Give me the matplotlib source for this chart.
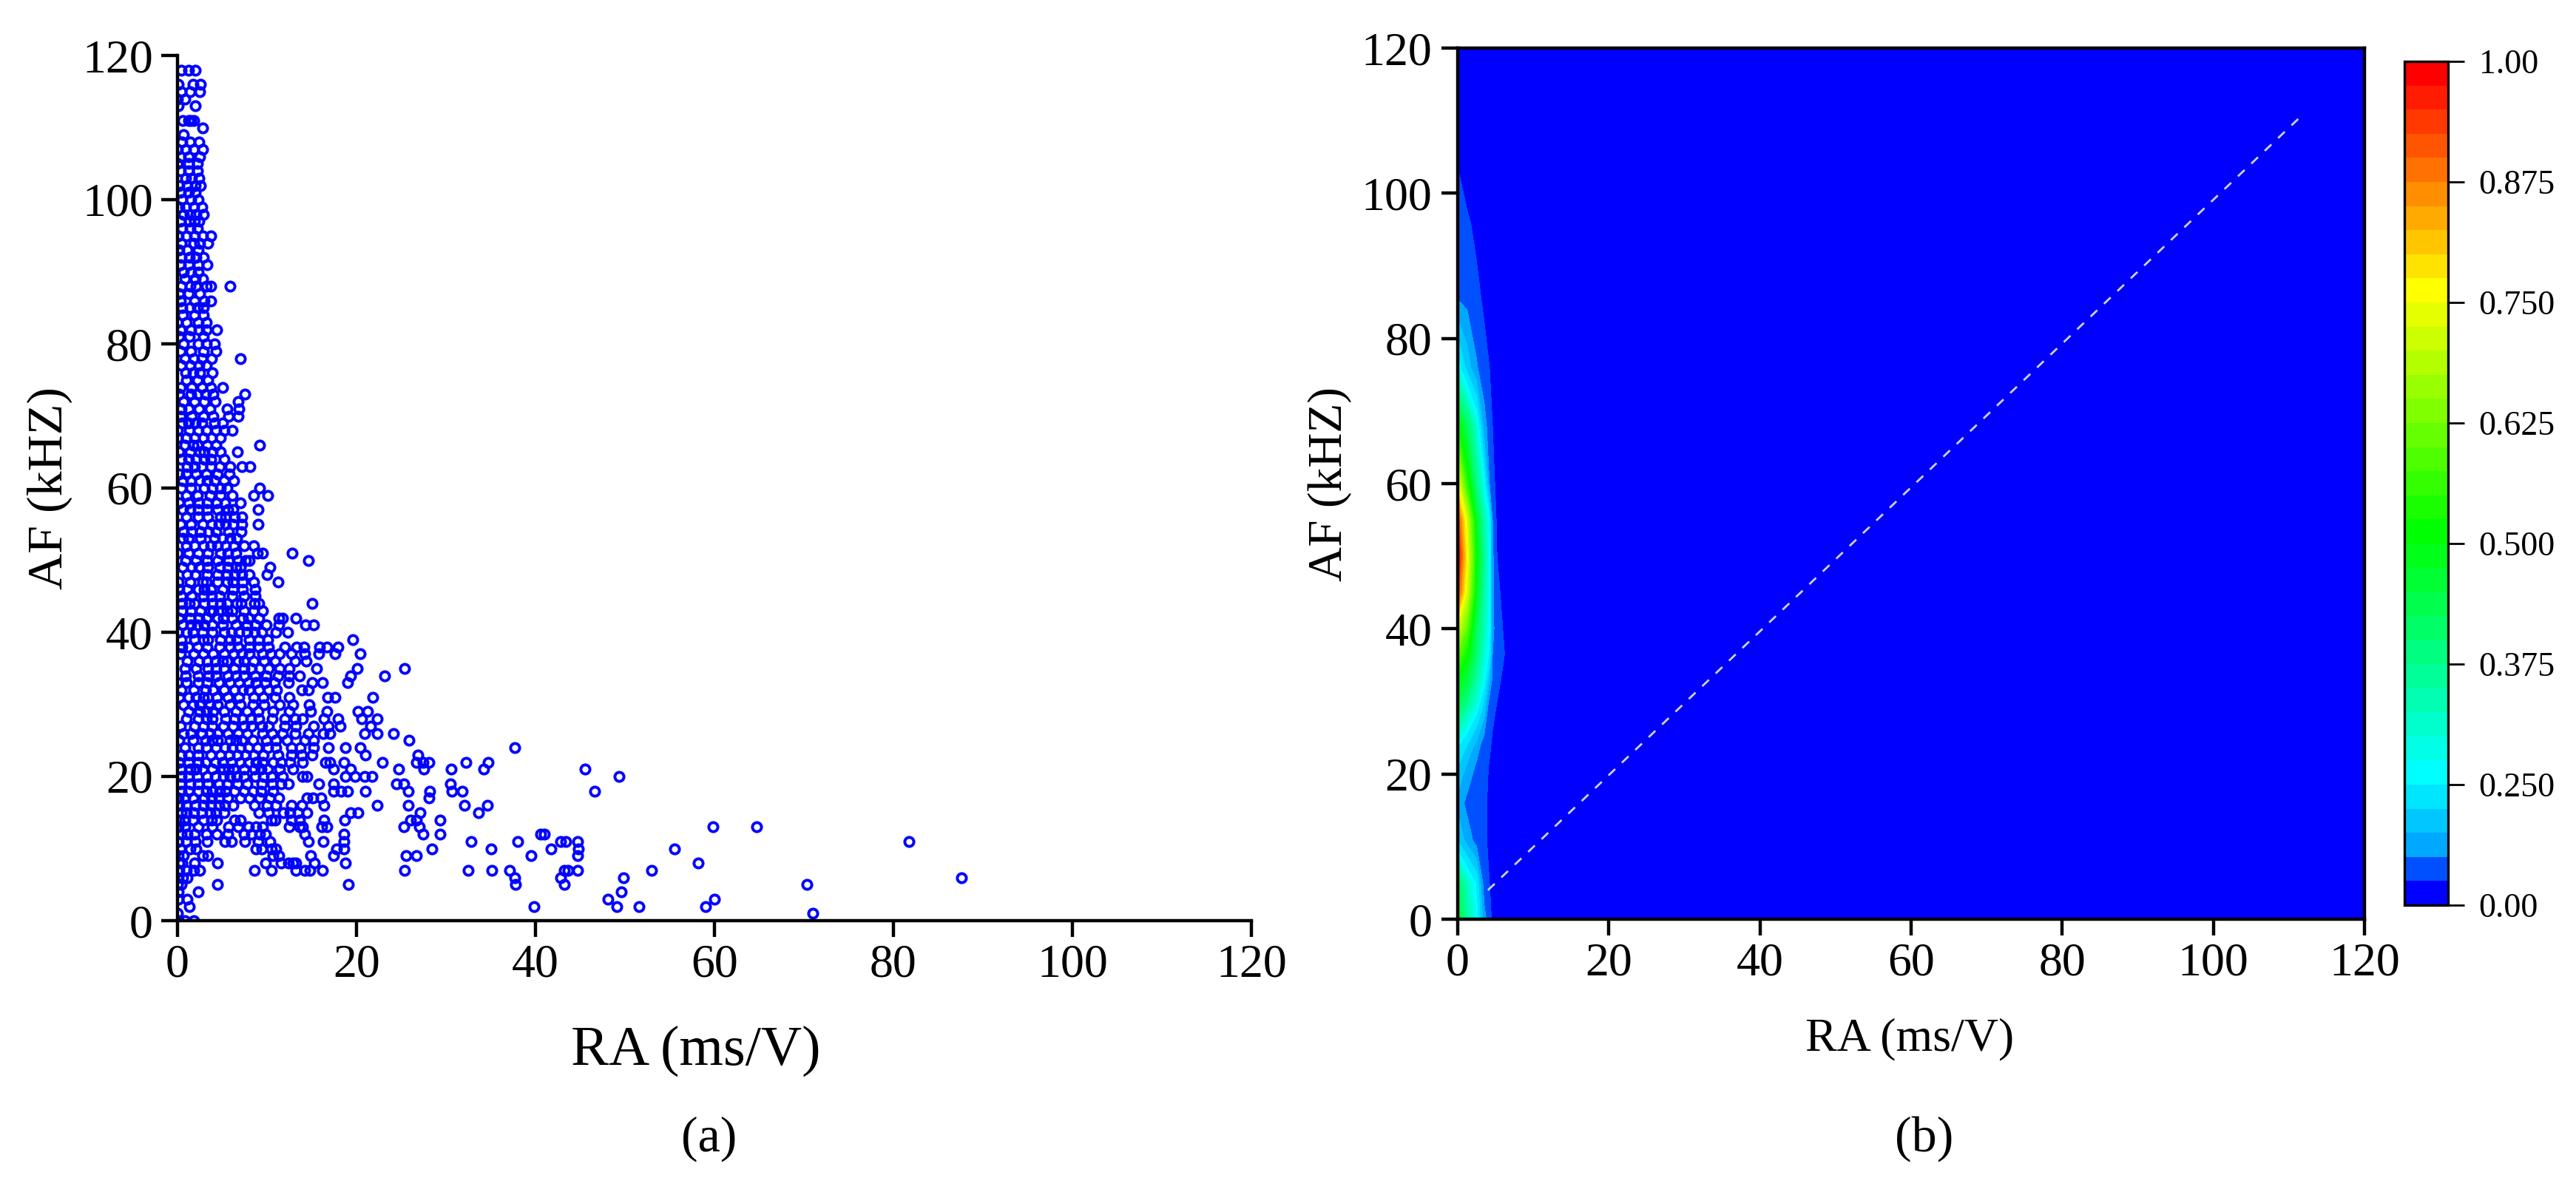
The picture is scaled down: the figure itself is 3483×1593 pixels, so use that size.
import numpy as np
import matplotlib
matplotlib.use("Agg")
import matplotlib.pyplot as plt

plt.rcParams['font.family'] = ['Liberation Serif', 'DejaVu Serif']

FIG_W, FIG_H = 3483, 1593

# panel (a): AF level (kHz) -> RA values (ms/V)
ra_by_af = {
    0: [0.1, 0.8, 1.8],
    1: [0.0, 71.0],
    2: [1.3, 39.8, 49.1, 51.6, 59.0],
    3: [0.1, 1.1, 48.1, 60.0],
    4: [0.1, 2.3, 49.6],
    5: [0.0, 0.4, 4.5, 19.1, 37.8, 43.2, 70.3],
    6: [0.0, 0.6, 1.1, 37.7, 42.8, 49.8, 87.6],
    7: [0.2, 1.0, 1.8, 2.5, 8.6, 10.5, 13.2, 14.2, 14.8, 16.2, 25.4, 32.5, 35.1, 37.1, 43.2, 43.6, 44.7, 53.0],
    8: [0.2, 0.5, 1.9, 4.5, 9.8, 11.6, 12.4, 12.9, 13.2, 15.3, 18.8, 58.2],
    9: [0.1, 0.7, 2.8, 3.4, 10.7, 11.3, 14.9, 17.4, 25.5, 26.7, 39.5, 44.7],
    10: [0.3, 1.4, 2.1, 8.8, 9.4, 10.5, 11.0, 17.8, 18.6, 28.4, 35.0, 41.7, 44.8, 55.5],
    11: [0.1, 1.0, 2.0, 3.3, 5.3, 6.0, 7.5, 9.0, 10.3, 14.6, 16.3, 18.6, 32.8, 38.0, 42.8, 43.4, 44.7, 81.7],
    12: [0.4, 1.1, 1.9, 3.2, 4.4, 5.6, 7.4, 8.3, 9.2, 9.8, 14.2, 18.6, 27.4, 29.3, 40.6, 41.0],
    13: [0.1, 0.8, 2.3, 3.9, 5.7, 6.8, 7.9, 8.8, 9.5, 12.5, 13.6, 14.0, 16.1, 16.7, 25.3, 27.0, 59.8, 64.7],
    14: [0.2, 0.8, 1.7, 2.9, 3.8, 4.4, 6.4, 7.0, 10.5, 10.9, 12.7, 13.6, 16.4, 18.7, 26.0, 26.7, 29.3],
    15: [0.4, 1.0, 1.8, 2.7, 3.6, 4.3, 5.2, 9.1, 10.2, 11.8, 12.6, 13.5, 14.5, 19.3, 20.2, 27.1, 33.6],
    16: [0.2, 1.0, 2.0, 2.9, 3.7, 4.6, 5.3, 6.2, 8.6, 10.0, 11.0, 12.7, 13.9, 16.4, 22.3, 25.8, 32.1, 34.6],
    17: [0.1, 0.8, 1.7, 3.0, 3.8, 4.6, 5.6, 7.0, 8.0, 9.2, 10.3, 11.3, 14.5, 15.1, 16.0, 28.1],
    18: [0.4, 1.2, 2.3, 3.2, 3.9, 4.7, 5.4, 6.4, 7.4, 8.4, 9.3, 10.7, 17.4, 18.3, 19.0, 21.0, 25.8, 28.2, 30.7, 31.8, 46.6],
    19: [0.3, 1.4, 2.3, 3.4, 4.6, 5.5, 6.7, 7.8, 9.4, 10.6, 11.6, 12.4, 15.8, 17.4, 24.5, 25.3, 30.5],
    20: [0.4, 1.2, 2.2, 3.3, 4.2, 5.1, 5.9, 6.6, 7.4, 8.7, 9.6, 10.5, 11.7, 14.0, 14.5, 18.8, 19.8, 20.9, 21.7, 49.3],
    21: [0.3, 1.4, 2.1, 2.8, 3.9, 5.1, 5.7, 6.3, 7.4, 8.6, 9.3, 10.1, 11.4, 12.9, 17.4, 19.3, 24.7, 27.5, 30.6, 34.2, 45.5],
    22: [0.2, 1.2, 2.3, 3.1, 4.2, 5.0, 6.0, 7.0, 7.9, 8.8, 9.5, 10.7, 11.6, 12.6, 14.0, 16.5, 17.0, 18.6, 22.9, 26.7, 27.4, 28.1, 32.2, 34.7],
    23: [0.4, 1.2, 2.3, 3.7, 4.8, 5.8, 6.7, 7.6, 8.5, 9.6, 11.2, 12.7, 13.9, 15.0, 21.0, 26.9],
    24: [0.8, 2.3, 3.2, 4.3, 5.3, 6.1, 7.0, 7.9, 8.9, 10.1, 11.0, 12.7, 13.7, 15.2, 16.9, 18.8, 20.4, 37.7],
    25: [0.2, 1.7, 3.1, 3.9, 4.5, 5.9, 6.5, 7.2, 8.4, 9.9, 11.0, 12.2, 14.2, 15.2, 25.9],
    26: [0.7, 1.5, 2.7, 3.6, 4.5, 5.6, 6.8, 7.8, 9.5, 10.6, 11.7, 13.1, 14.6, 16.3, 17.0, 20.9, 22.3, 24.1],
    27: [0.3, 1.9, 2.9, 3.9, 5.1, 6.2, 7.4, 8.3, 9.4, 10.2, 12.0, 13.2, 15.2, 16.9, 18.2, 21.6],
    28: [1.0, 2.3, 3.2, 3.9, 5.4, 6.4, 7.3, 8.2, 9.1, 10.6, 12.0, 13.1, 14.0, 16.4, 17.9, 20.6, 22.3],
    29: [1.2, 2.5, 3.2, 4.0, 5.2, 6.5, 7.8, 9.0, 10.7, 12.5, 14.9, 16.7, 20.2, 21.2],
    30: [0.7, 1.7, 2.5, 3.6, 4.5, 5.9, 7.0, 8.4, 9.7, 11.4, 12.9, 14.7],
    31: [0.2, 1.2, 2.1, 2.9, 3.4, 4.4, 5.6, 6.9, 8.5, 9.6, 10.9, 12.5, 16.8, 17.6, 21.8],
    32: [0.4, 1.8, 3.1, 4.0, 5.2, 6.4, 7.3, 8.0, 9.1, 10.2, 11.1, 13.9, 14.6],
    33: [0.0, 1.0, 2.3, 3.3, 4.6, 5.9, 6.9, 7.9, 8.8, 9.8, 10.8, 12.4, 15.0, 16.2, 19.0],
    34: [0.9, 2.3, 3.5, 4.3, 5.6, 6.5, 7.4, 8.7, 9.9, 11.2, 12.5, 13.6, 19.3, 23.1],
    35: [0.8, 2.1, 3.4, 4.3, 5.2, 6.4, 7.4, 8.3, 9.2, 10.2, 11.4, 12.5, 15.5, 20.1, 25.4],
    36: [1.1, 2.4, 3.3, 4.2, 5.0, 5.5, 6.8, 7.4, 8.5, 9.7, 10.9, 13.1, 14.4],
    37: [0.3, 1.8, 2.9, 4.0, 5.2, 6.3, 7.2, 8.0, 9.5, 10.4, 11.4, 12.7, 14.2, 15.8, 17.6, 20.4],
    38: [0.5, 1.2, 2.2, 3.3, 4.7, 5.9, 6.8, 8.0, 9.1, 10.2, 12.0, 13.3, 14.1, 15.9, 16.7, 17.9],
    39: [0.4, 1.9, 2.9, 3.4, 4.8, 5.9, 6.6, 8.0, 9.1, 10.1, 19.6],
    40: [0.1, 1.0, 1.7, 2.8, 3.9, 5.2, 6.0, 6.9, 7.8, 8.6, 9.4, 11.0, 12.3],
    41: [0.6, 1.5, 2.2, 3.0, 3.9, 5.0, 6.5, 7.8, 8.7, 9.9, 11.3, 14.3, 15.2],
    42: [0.2, 1.4, 2.4, 3.2, 4.5, 5.1, 6.1, 7.3, 7.9, 9.1, 11.3, 11.7, 13.2],
    43: [0.5, 1.5, 2.6, 3.6, 4.0, 4.9, 5.5, 6.1, 7.4, 8.5, 9.5],
    44: [0.5, 1.3, 1.9, 3.0, 3.9, 4.8, 5.5, 6.6, 7.1, 8.6, 9.1, 15.0],
    45: [0.4, 1.6, 2.9, 3.8, 4.7, 6.1, 7.4, 8.7],
    46: [0.2, 1.1, 2.3, 3.0, 3.7, 5.0, 6.2, 7.3, 8.7],
    47: [0.1, 1.4, 2.8, 3.2, 4.5, 5.5, 6.2, 7.3, 8.5, 11.2],
    48: [1.1, 2.0, 3.3, 4.5, 5.5, 6.4, 7.2, 8.0, 10.0],
    49: [0.6, 1.6, 2.4, 3.4, 4.7, 5.6, 6.5, 7.0, 10.3],
    50: [0.9, 2.1, 3.3, 4.5, 5.7, 6.8, 7.6, 8.0, 14.6],
    51: [0.0, 1.2, 2.3, 3.4, 4.8, 5.6, 6.5, 8.9, 9.5, 12.8],
    52: [1.0, 1.9, 2.9, 3.7, 4.5, 5.4, 6.3, 7.4, 8.5],
    53: [0.6, 1.2, 2.6, 4.1, 5.0, 5.9, 6.6],
    54: [0.7, 1.6, 2.6, 3.5, 4.3, 5.7, 7.1],
    55: [0.3, 1.5, 2.8, 3.8, 4.6, 5.4, 6.2, 7.2, 9.0],
    56: [1.0, 2.3, 3.4, 4.8, 5.4, 6.4, 7.2],
    57: [0.6, 1.4, 2.3, 3.3, 4.5, 5.6, 6.2, 9.0],
    58: [0.2, 1.2, 2.4, 3.3, 4.4, 5.3, 7.0],
    59: [1.0, 2.2, 3.6, 4.8, 6.1, 8.5, 10.1],
    60: [0.4, 1.5, 3.0, 3.9, 4.8, 5.5, 9.2],
    61: [0.6, 1.5, 2.5, 3.3, 4.1, 5.2, 6.3],
    62: [0.2, 1.0, 2.1, 3.2, 4.5, 5.8],
    63: [1.1, 1.9, 2.7, 3.7, 4.7, 5.9, 7.2, 8.1],
    64: [0.4, 1.2, 2.1, 3.0, 3.7, 5.2],
    65: [0.2, 1.4, 2.5, 3.0, 3.9, 4.8, 6.7],
    66: [0.8, 1.7, 2.2, 3.3, 4.3, 9.2],
    67: [0.0, 1.0, 1.9, 2.9, 3.8, 4.8],
    68: [0.0, 1.3, 2.3, 3.2, 4.3, 5.2, 6.1],
    69: [0.5, 1.2, 2.0, 2.7, 4.1, 5.0],
    70: [0.3, 1.6, 2.9, 4.0, 5.7, 6.8],
    71: [0.4, 1.2, 2.4, 3.6, 5.5, 6.9],
    72: [0.7, 1.9, 3.0, 4.2, 6.8],
    73: [0.2, 1.5, 2.2, 3.1, 4.0, 7.5],
    74: [0.3, 1.6, 2.7, 3.7, 5.0],
    75: [1.0, 2.2, 3.4],
    76: [0.9, 1.7, 2.5, 3.9],
    77: [0.4, 1.4, 2.4, 3.2],
    78: [0.8, 1.8, 2.7, 3.8, 7.0],
    79: [0.3, 1.5, 2.9, 4.3],
    80: [0.7, 2.3, 3.2, 4.1],
    81: [0.2, 1.3, 2.9],
    82: [0.3, 1.5, 2.4, 3.2, 4.4],
    83: [0.0, 1.0, 2.3, 3.2],
    84: [0.6, 1.9, 2.9],
    85: [0.5, 1.4, 2.2, 2.9],
    86: [0.3, 1.9, 3.0, 3.7],
    87: [0.2, 1.2, 2.5],
    88: [0.4, 1.4, 2.1, 3.2, 3.7, 5.9],
    89: [0.8, 2.0, 2.8],
    90: [0.7, 1.5, 2.3],
    91: [0.3, 1.2, 2.3, 3.3],
    92: [0.4, 1.3, 2.1, 2.9],
    93: [0.2, 1.1, 2.3],
    94: [0.4, 1.8, 2.5, 3.4],
    95: [0.1, 1.0, 1.9, 2.8, 3.7],
    96: [0.5, 1.4, 2.2],
    97: [0.3, 1.3, 1.9, 2.4],
    98: [0.7, 1.4, 2.1, 2.9],
    99: [0.2, 0.9, 1.8, 2.7],
    100: [0.5, 1.5, 2.3],
    101: [0.3, 1.2, 2.0],
    102: [0.2, 1.1, 2.0, 2.6],
    103: [0.9, 1.6, 2.4],
    104: [0.3, 1.2, 2.2],
    105: [0.0, 1.2, 2.2],
    106: [0.3, 1.2, 2.5],
    107: [0.0, 0.9, 1.8, 2.8],
    108: [0.5, 1.4, 2.4],
    109: [0.7],
    110: [2.8],
    111: [0.6, 1.2, 1.5, 1.8],
    113: [0.1, 2.0],
    114: [0.0, 0.8],
    115: [0.4, 1.4, 2.5],
    116: [0.1, 1.7, 2.6],
    118: [0.4, 1.2, 2.0],
}

# panel (b): density field
grid_ra = [0, 1.25, 2.5, 3.5, 4.2, 4.6, 5.2, 6.2, 8, 120]
grid_af = [0, 5, 10.8, 16, 21, 24, 30, 33, 36.5, 40, 45, 50, 55, 60, 68, 76, 85.4, 95.7, 103.5, 110, 120]
density = [
    [0.47, 0.36, 0.27, 0.12, 0.07, 0.04, 0, 0, 0, 0],
    [0.42, 0.32, 0.24, 0.07, 0.05, 0.03, 0, 0, 0, 0],
    [0.20, 0.13, 0.08, 0.06, 0.04, 0.02, 0, 0, 0, 0],
    [0.13, 0.085, 0.07, 0.06, 0.04, 0.02, 0, 0, 0, 0],
    [0.20, 0.14, 0.09, 0.07, 0.045, 0.03, 0, 0, 0, 0],
    [0.26, 0.20, 0.13, 0.07, 0.06, 0.04, 0, 0, 0, 0],
    [0.45, 0.38, 0.30, 0.20, 0.08, 0.07, 0.05, 0, 0, 0],
    [0.50, 0.45, 0.35, 0.27, 0.15, 0.09, 0.07, 0.03, 0, 0],
    [0.60, 0.52, 0.40, 0.30, 0.24, 0.10, 0.08, 0.05, 0, 0],
    [0.72, 0.60, 0.42, 0.33, 0.26, 0.11, 0.08, 0.04, 0, 0],
    [0.93, 0.72, 0.48, 0.35, 0.26, 0.11, 0.07, 0.02, 0, 0],
    [1.00, 0.76, 0.50, 0.37, 0.26, 0.11, 0.05, 0, 0, 0],
    [0.93, 0.72, 0.47, 0.34, 0.25, 0.10, 0.04, 0, 0, 0],
    [0.76, 0.55, 0.38, 0.27, 0.10, 0.07, 0.03, 0, 0, 0],
    [0.52, 0.42, 0.30, 0.12, 0.075, 0.05, 0.02, 0, 0, 0],
    [0.28, 0.18, 0.105, 0.07, 0.05, 0.03, 0, 0, 0, 0],
    [0.10, 0.085, 0.065, 0.04, 0.02, 0, 0, 0, 0, 0],
    [0.075, 0.06, 0.035, 0.01, 0, 0, 0, 0, 0, 0],
    [0.05, 0.02, 0, 0, 0, 0, 0, 0, 0, 0],
    [0, 0, 0, 0, 0, 0, 0, 0, 0, 0],
    [0, 0, 0, 0, 0, 0, 0, 0, 0, 0],
]
diag_ra = [4, 112]
diag_af = [4, 111]

axis_ticks = [0, 20, 40, 60, 80, 100, 120]
cbar_ticks = [0, 0.25, 0.375, 0.5, 0.625, 0.75, 0.875, 1.0]
cbar_labels = ['0.00', '0.250', '0.375', '0.500', '0.625', '0.750', '0.875', '1.00']
low_levels = [0, 0.05, 0.1, 0.15, 0.2, 0.25]
high_levels = [0.275, 0.3, 0.325, 0.35, 0.375, 0.4, 0.425, 0.45, 0.475, 0.5,
               0.525, 0.55, 0.575, 0.6, 0.625, 0.65, 0.675, 0.7, 0.725, 0.75,
               0.775, 0.8, 0.825, 0.85, 0.875, 0.9, 0.925, 0.95, 0.975, 1.0]
low_colors = ['#0000ff', '#0050ff', '#00a8ff', '#00c8ff', '#00e6ff']


def band_colors():
    colors = list(low_colors)
    for k in range(5, 15):
        colors.append((0, 1, 1 - (k - 5) / 10))
    for k in range(15, 25):
        colors.append(((k - 15) / 10, 1, 0))
    for k in range(25, 35):
        colors.append((1, 1 - (k - 25) / 9, 0))
    return colors


def px_axes(fig, left, right, top, bottom):
    return fig.add_axes([left / FIG_W, 1 - bottom / FIG_H,
                         (right - left) / FIG_W, (bottom - top) / FIG_H])


def style_axis(ax, pad_x, pad_y):
    ax.set_xlim(0, 120)
    ax.set_ylim(0, 120)
    ax.set_xticks(axis_ticks)
    ax.set_yticks(axis_ticks)
    ax.tick_params(axis='x', direction='out', length=16, width=3.2, labelsize=46, pad=pad_x)
    ax.tick_params(axis='y', direction='out', length=16, width=3.2, labelsize=46, pad=pad_y)
    for spine in ax.spines.values():
        spine.set_linewidth(3.2)


fig = plt.figure(figsize=(FIG_W / 100, FIG_H / 100), dpi=100)

# (a) scatter
ax1 = px_axes(fig, 240, 1692, 75, 1245)
ra = []
af = []
for level, values in ra_by_af.items():
    ra.extend(values)
    af.extend([level] * len(values))
ax1.plot(ra, af, linestyle='none', marker='o', markersize=8.8, markerfacecolor='none',
         markeredgecolor='#0000ff', markeredgewidth=2.8)
style_axis(ax1, 7, 8)
ax1.spines['top'].set_visible(False)
ax1.spines['right'].set_visible(False)

# (b) contour
ax2 = px_axes(fig, 1971, 3197, 65, 1243)
cf = ax2.contourf(grid_ra, grid_af, np.array(density), levels=low_levels + high_levels,
                  colors=band_colors())
ax2.plot(diag_ra, diag_af, color='#d0d0d0', linewidth=2, dashes=(4.5, 4.5))
style_axis(ax2, 7, 9)

cax = px_axes(fig, 3251, 3310, 83, 1224)
cbar = fig.colorbar(cf, cax=cax, ticks=cbar_ticks)
cbar.ax.set_yticklabels(cbar_labels)
cbar.ax.tick_params(direction='out', length=16, width=2, labelsize=33, pad=14)
cbar.outline.set_linewidth(2.4)

# axis labels and panel captions
fig.text(941 / FIG_W, 1 - 1421 / FIG_H, 'RA (ms/V)', ha='center', va='center', fontsize=55)
fig.text(2582 / FIG_W, 1 - 1405 / FIG_H, 'RA (ms/V)', ha='center', va='center', fontsize=46)
fig.text(67 / FIG_W, 1 - 660 / FIG_H, 'AF (kHZ)', ha='center', va='center', fontsize=49, rotation=90)
fig.text(1798 / FIG_W, 1 - 654 / FIG_H, 'AF (kHZ)', ha='center', va='center', fontsize=47, rotation=90)
fig.text(959 / FIG_W, 1 - 1540 / FIG_H, '(a)', ha='center', va='center', fontsize=49)
fig.text(2602 / FIG_W, 1 - 1540 / FIG_H, '(b)', ha='center', va='center', fontsize=49)

fig.savefig('out.png', dpi=100)
